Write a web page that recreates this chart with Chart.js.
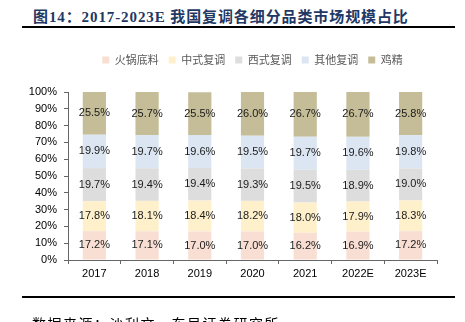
<!DOCTYPE html>
<html>
<head>
<meta charset="utf-8">
<script src="https://cdn.jsdelivr.net/npm/chart.js@4.4.1/dist/chart.umd.min.js"></script>
<style>
  html, body { margin: 0; padding: 0; background: #fff; }
  #wrap { position: relative; width: 465px; height: 322px; overflow: hidden; }
  #title {
    position: absolute; left: 33px; top: 5px;
    font: bold 15px "Liberation Serif", "Noto Sans CJK SC", serif;
    color: #1F3864; letter-spacing: 0.9px; white-space: nowrap;
  }
  .rule { position: absolute; left: 22px; width: 433px; height: 2px; background: #000; }
  #source {
    position: absolute; left: 32px; top: 313px;
    font: 14px "Noto Sans CJK SC", sans-serif;
    color: #000; letter-spacing: 1.5px; white-space: nowrap;
  }
  canvas { position: absolute; left: 0; top: 0; }
</style>
</head>
<body>
<div id="wrap">
  <div id="title">图14：2017-2023E 我国复调各细分品类市场规模占比</div>
  <div class="rule" style="top:26px"></div>
  <canvas id="c" width="465" height="322"></canvas>
  <div class="rule" style="top:296px"></div>
  <div id="source">数据来源：沙利文，东吴证券研究所</div>
</div>
<script>
// Categories and shares (%) per segment
const years = ['2017', '2018', '2019', '2020', '2021', '2022E', '2023E'];
const seriesNames = ['火锅底料', '中式复调', '西式复调', '其他复调', '鸡精'];
const hotpotBase     = [17.2, 17.1, 17.0, 17.0, 16.2, 16.9, 17.2];
const chineseSauce   = [17.8, 18.1, 18.4, 18.2, 18.0, 17.9, 18.3];
const westernSauce   = [19.7, 19.4, 19.4, 19.3, 19.5, 18.9, 19.0];
const otherSauce     = [19.9, 19.7, 19.6, 19.5, 19.7, 19.6, 19.8];
const chickenEssence = [25.5, 25.7, 25.5, 26.0, 26.7, 26.7, 25.8];
const yTickValues    = [0, 10, 20, 30, 40, 50, 60, 70, 80, 90, 100];

const seriesData = [hotpotBase, chineseSauce, westernSauce, otherSauce, chickenEssence];
const seriesColors = ['#F9DFD3', '#FFF0CC', '#DDDDDD', '#DCE6F2', '#C4BD97'];

const numFont = '"Liberation Sans Narrow", "Liberation Sans", sans-serif';
Chart.defaults.font.family = numFont;
Chart.defaults.font.size = 11;
Chart.defaults.color = '#000';

// Writes each segment's share in the middle of its bar piece
const segmentLabels = {
  id: 'segmentLabels',
  afterDatasetsDraw(chart) {
    const ctx = chart.ctx;
    ctx.save();
    ctx.font = '11px ' + numFont;
    ctx.fillStyle = '#1a1a1a';
    ctx.textAlign = 'center';
    ctx.textBaseline = 'middle';
    chart.data.datasets.forEach((ds, i) => {
      chart.getDatasetMeta(i).data.forEach((bar, j) => {
        ctx.fillText(ds.data[j].toFixed(1) + '%', bar.x, (bar.y + bar.base) / 2);
      });
    });
    ctx.restore();
  }
};

new Chart(document.getElementById('c'), {
  type: 'bar',
  data: {
    labels: years,
    datasets: seriesNames.map((name, i) => ({
      label: name,
      data: seriesData[i],
      backgroundColor: seriesColors[i],
      borderWidth: 0,
      categoryPercentage: 1,
      barPercentage: 0.44
    }))
  },
  options: {
    responsive: false,
    animation: false,
    layout: { padding: { left: 0, right: 28, top: 44.5, bottom: 32 } },
    plugins: {
      legend: {
        position: 'top',
        fullSize: false,
        labels: {
          boxWidth: 7,
          boxHeight: 7,
          padding: 10,
          color: '#595959',
          font: { family: '"Noto Sans CJK SC", sans-serif', size: 11 }
        }
      },
      // empty spacer between legend and plot
      subtitle: {
        display: true,
        text: '',
        weight: 500,
        padding: 0,
        font: { size: 16.5, lineHeight: 1 }
      },
      tooltip: { enabled: false }
    },
    scales: {
      x: {
        stacked: true,
        grid: { offset: true, drawOnChartArea: false, drawTicks: true, tickLength: 4, color: '#666' },
        border: { display: true, color: '#666', width: 1 },
        ticks: { padding: 3, color: '#000', font: { size: 11 } },
        afterFit(scale) { scale.height = 30; }
      },
      y: {
        stacked: true,
        min: 0,
        max: 100,
        afterBuildTicks(scale) { scale.ticks = yTickValues.map(v => ({ value: v })); },
        grid: { drawOnChartArea: false, drawTicks: true, tickLength: 4, color: '#666' },
        border: { display: true, color: '#666', width: 1 },
        ticks: { padding: 7, color: '#000', font: { size: 11 }, callback: v => v + '%' },
        afterFit(scale) { scale.width = 68; }
      }
    }
  },
  plugins: [segmentLabels]
});
</script>
</body>
</html>
